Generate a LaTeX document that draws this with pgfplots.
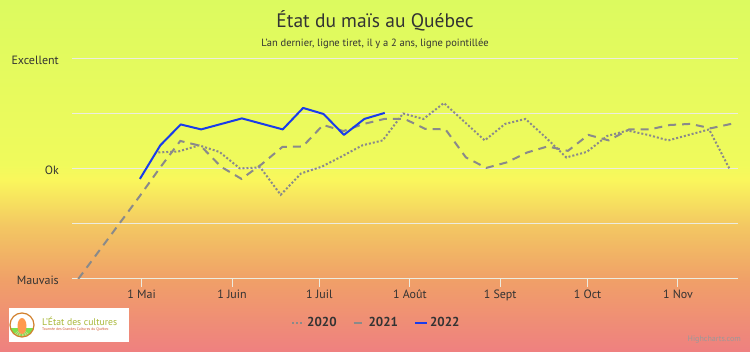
\documentclass[border=0pt]{standalone}
\usepackage{fontspec}
\setmainfont{PT Sans}
\usepackage{pgfplots}
\usepackage{pgfplotstable}
\pgfplotsset{compat=1.18}

\definecolor{bgA}{HTML}{EF8080}
\definecolor{bgB}{HTML}{F0A068}
\definecolor{bgC}{HTML}{F3C862}
\definecolor{bgD}{HTML}{FAF75C}
\definecolor{bgE}{HTML}{F0FA5C}
\definecolor{bgF}{HTML}{DCFA5F}
\definecolor{gridc}{HTML}{ECECE0}
\definecolor{txt}{HTML}{333333}
\definecolor{serie}{HTML}{8A8A8A}
\definecolor{bleu}{RGB}{25,60,235}
\definecolor{olive}{HTML}{A8B838}
\definecolor{orangelogo}{HTML}{D2562E}

\pgfplotstableread{
x y
120.4 -0.18
127.4 0.43
134.4 0.81
141.4 0.72
148.4 0.82
155.4 0.92
162.4 0.82
169.4 0.72
176.4 1.11
183.4 1.00
190.4 0.62
197.4 0.91
204.4 1.02
}\ddeux

\pgfplotstableread{
x y
99.25 -2.00
106.25 -1.50
113.25 -1.00
120.25 -0.50
127.25 0.02
134.25 0.51
141.25 0.42
148.25 0.04
155.25 -0.18
162.25 0.09
169.25 0.40
176.25 0.41
183.25 0.80
190.25 0.69
197.25 0.82
204.25 0.91
211.25 0.91
218.25 0.73
225.25 0.72
232.25 0.21
239.25 0.02
246.25 0.12
253.25 0.30
260.25 0.41
267.25 0.33
274.25 0.62
281.25 0.52
288.25 0.72
295.25 0.72
302.25 0.80
309.25 0.82
316.25 0.74
323.25 0.82
}\dun

\pgfplotstableread{
x y
126.7 0.30
133.7 0.32
140.7 0.43
147.7 0.31
154.7 0.01
161.7 0.03
168.7 -0.47
175.7 -0.08
182.7 0.04
189.7 0.23
196.7 0.43
203.7 0.52
210.7 1.01
217.7 0.91
224.7 1.20
231.7 0.86
238.7 0.52
245.7 0.82
252.7 0.91
259.7 0.57
266.7 0.21
273.7 0.31
280.7 0.60
287.7 0.70
294.7 0.62
301.7 0.52
308.7 0.62
315.7 0.72
322.7 0.00
}\dzero

\begin{document}
\begin{tikzpicture}[x=1pt,y=1pt]
% background gradient
\shade[bottom color=bgA, top color=bgB] (0,0) rectangle (750,72.5);
\shade[bottom color=bgB, top color=bgC] (0,72) rectangle (750,127.5);
\shade[bottom color=bgC, top color=bgD] (0,127) rectangle (750,172.5);
\shade[bottom color=bgD, top color=bgE] (0,172) rectangle (750,187.5);
\shade[bottom color=bgE, top color=bgF] (0,187) rectangle (750,352);

% titles
\node[font=\fontsize{19.5}{22}\selectfont, text=txt] at (375,331) {État du maïs au Québec};
\node[font=\fontsize{10.5}{12}\selectfont, text=txt] at (375,308) {L'an dernier, ligne tiret, il y a 2 ans, ligne pointillée};

\begin{axis}[
  at={(72pt,73pt)}, anchor=south west,
  scale only axis, width=666pt, height=220pt,
  xmin=97.1, xmax=325.6, ymin=-2, ymax=2,
  axis line style={draw=none},
  ymajorgrids, grid style={draw=gridc, line width=1pt},
  ytick={-2,-1,0,1,2},
  yticklabels={Mauvais,,Ok,,Excellent},
  xtick={121,152,182,213,244,274,305},
  xticklabels={1 Mai,1 Juin,1 Juil,1 Août,1 Sept,1 Oct,1 Nov},
  xtick pos=lower, ytick pos=left,
  tick align=outside, major tick length=8pt,
  xtick style={draw=gridc, line width=1pt},
  ytick style={draw=none},
  ticklabel style={font=\fontsize{12}{14}\selectfont, text=txt},
  yticklabel style={inner sep=0pt, anchor=east, xshift=-5pt, yshift=-1.5pt},
  xticklabel style={inner sep=0pt, anchor=north, yshift=-3pt},
  legend style={at={(0.457,-0.2)}, anchor=center, draw=none, fill=none,
    font=\bfseries\fontsize{13}{15}\selectfont, text=txt,
    /tikz/every even column/.append style={column sep=14pt}},
  legend columns=3,
  legend image code/.code={\draw[#1] (0pt,0pt) -- (12pt,0pt);},
]
\addplot[serie, line width=2pt, dash pattern=on 2pt off 2pt] table[x=x,y=y] {\dzero};
\addlegendentry{2020}
\addplot[serie, line width=2pt, dash pattern=on 8pt off 6pt] table[x=x,y=y] {\dun};
\addlegendentry{2021}
\addplot[bleu, line width=2pt, line join=round] table[x=x,y=y] {\ddeux};
\addlegendentry{2022}
\end{axis}

% logo
\fill[white] (9,10) rectangle (129,44);
\begin{scope}
\clip (22,27) circle (12);
\fill[white] (10,15) rectangle (34,39);
\fill[green!45!olive!80] (10,15) rectangle (34,24);
\foreach \i in {0,...,5} {\fill[olive!60!white] (10+4*\i,15) -- (12+4*\i,15) -- (22,24) -- cycle;}
\fill[orange!60!pink] (22,26) ellipse (4.5 and 8);
\end{scope}
\draw[brown!70!orange, line width=1.2pt] (22,27) circle (12);
\node[anchor=west, inner sep=0pt, font=\fontsize{9.7}{11}\selectfont, text=olive] at (42,31) {L'État des cultures};
\node[anchor=west, inner sep=0pt, font=\fontsize{3.8}{4}\selectfont, text=orangelogo] at (42,23) {Tournée des Grandes Cultures du Québec};

% credits
\node[anchor=east, inner sep=0pt, font=\fontsize{8}{9}\selectfont, text=gray!80] at (741,12) {Highcharts.com};

\pgfresetboundingbox
\path (0,0) rectangle (750,352);
\end{tikzpicture}
\end{document}
